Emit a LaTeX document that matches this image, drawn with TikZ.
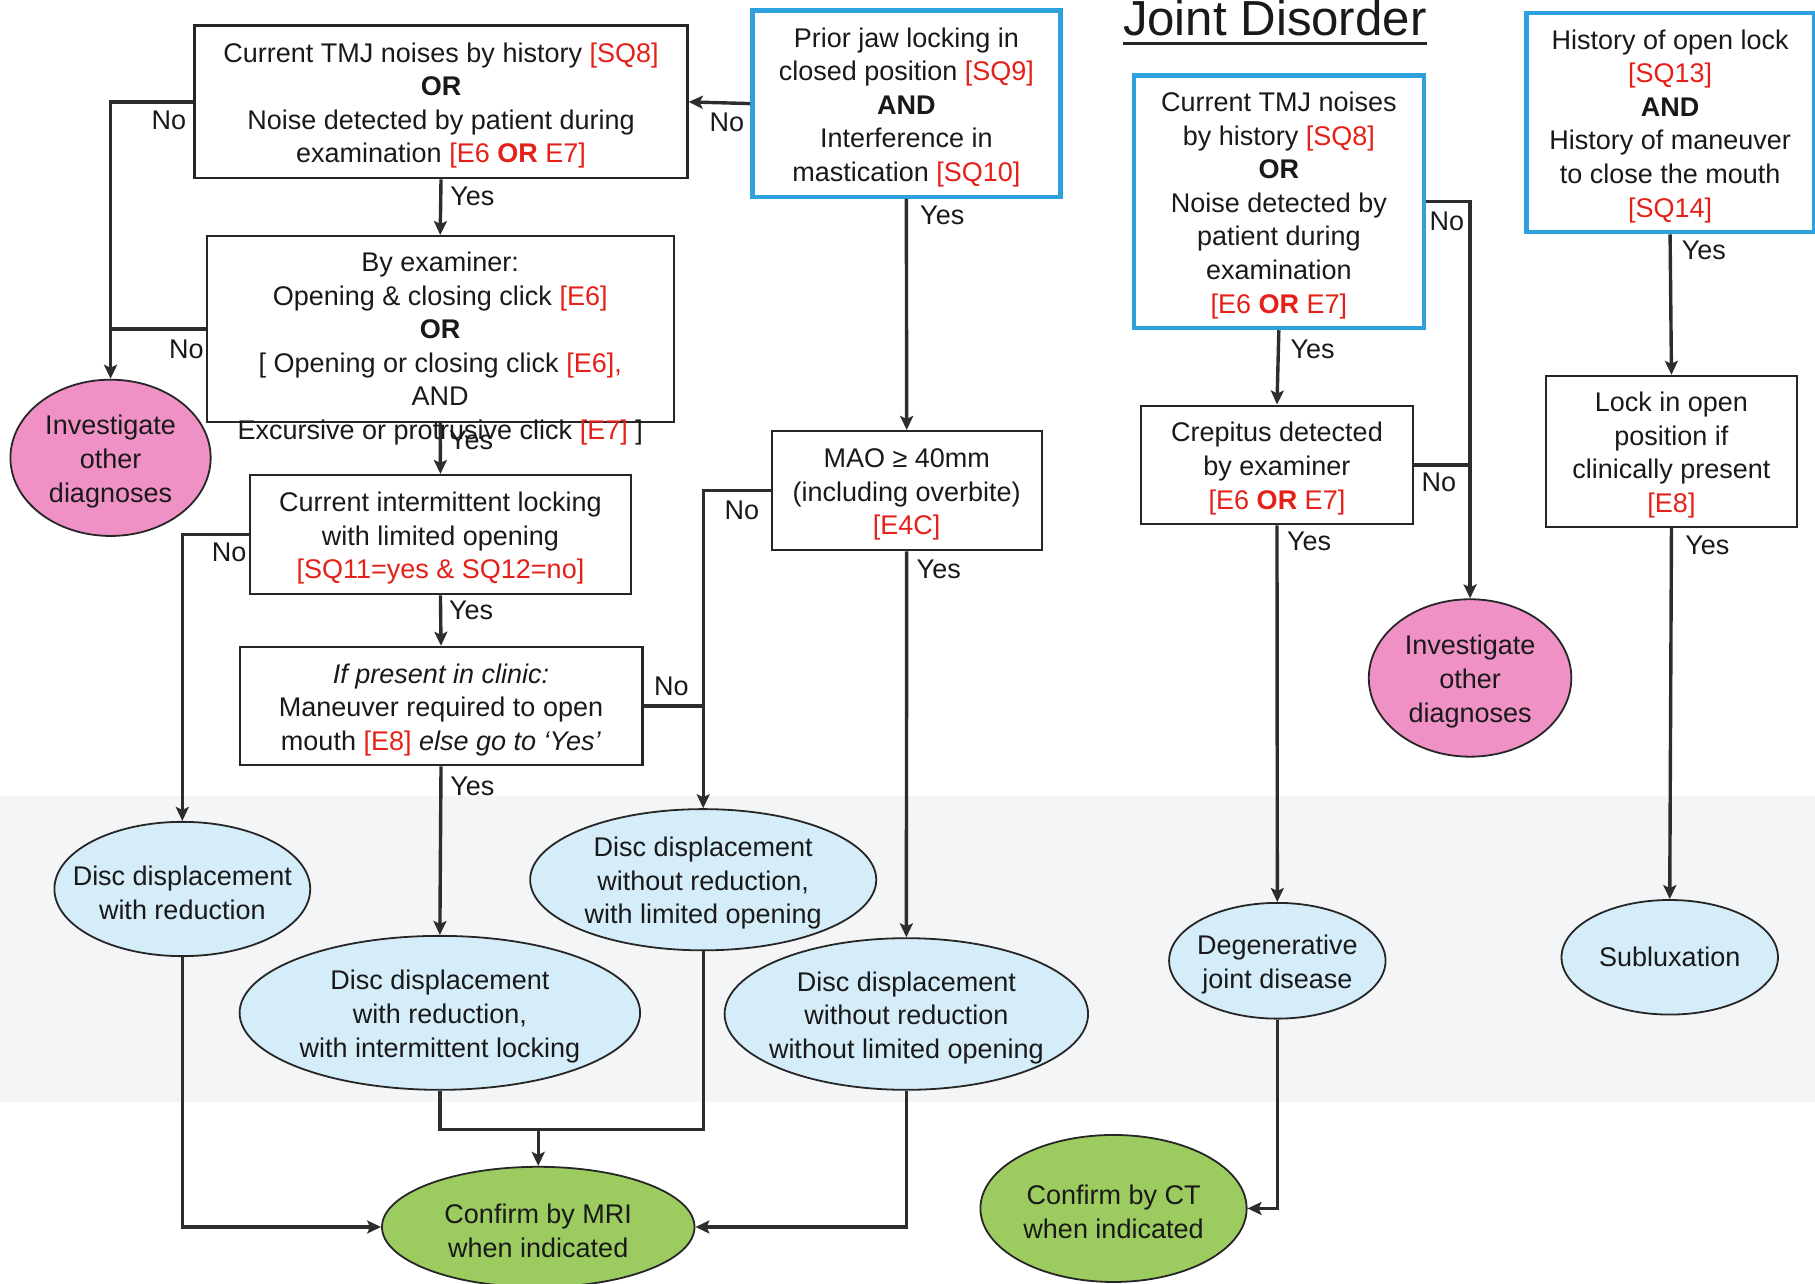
\documentclass[tikz,border=0pt]{standalone}
\usepackage{fontspec}
\setmainfont{Liberation Sans}
\usetikzlibrary{shapes.geometric,arrows.meta}
\definecolor{bblue}{RGB}{45,160,222}
\definecolor{tred}{RGB}{228,32,24}
\definecolor{pinkf}{RGB}{240,145,198}
\definecolor{lblue}{RGB}{213,237,249}
\definecolor{gfill}{RGB}{156,203,96}
\definecolor{linec}{RGB}{45,45,45}
\definecolor{bandc}{RGB}{244,245,246}
\newcommand{\redt}[1]{\textcolor{tred}{#1}}
\newcommand{\fs}{\rule{0pt}{13.4pt}}
\begin{document}
\begin{tikzpicture}[x=0.5787pt,y=-0.5787pt,
  txt/.style={font=\fontsize{13.5}{16.8}\selectfont, align=center, inner sep=0pt, text=black!90},
  sz/.style 2 args={minimum width=#1*0.5787pt, minimum height=#2*0.5787pt},
  box/.style={txt, draw=black!85, line width=1.1pt, rectangle},
  bbox/.style={txt, draw=bblue, line width=2.2pt, rectangle},
  ell/.style={txt, ellipse, draw=black!85, line width=0.9pt, inner sep=-12pt},
  dd/.style={ell, fill=lblue},
  inv/.style={ell, fill=pinkf},
  conf/.style={ell, fill=gfill},
  conn/.style={draw=linec, line width=1.7pt},
  arr/.style={conn, -{Stealth[length=7pt,width=6.5pt,inset=1.5pt]}},
  lab/.style={txt}
]
\useasboundingbox (0,0) rectangle (1568,1109);
\fill[bandc] (0,688) rectangle (1568,952);

% title
\node[txt, font=\fontsize{24.6}{28}\selectfont, anchor=base] (TT) at (1101.3,31) {Joint Disorder};
\draw[line width=1.2pt, black!85] ([yshift=-3.8pt]TT.base west) -- ([yshift=-3.8pt]TT.base east);

% left column boxes
\node[box, sz={426}{132}] (A) at (381,88) {\fs Current TMJ noises by history \redt{[SQ8]}\\ \textbf{OR}\\ Noise detected by patient during\\ examination \redt{[E6 \textbf{OR} E7]}};
\node[bbox, sz={266}{161}] (B) at (783,89.5) {\fs Prior jaw locking in\\ closed position \redt{[SQ9]}\\ \textbf{AND}\\ Interference in\\ mastication \redt{[SQ10]}};
\node[box, sz={403.4}{160.6}] (C) at (380.3,284.3) {};
\node[txt] (Ct) at (380.3,301) {By examiner:\\ Opening \& closing click \redt{[E6]}\\ \textbf{OR}\\ {[} Opening or closing click \redt{[E6],}\\ AND\\ Excursive or protrusive click \redt{[E7]} ]};
\node[box, sz={329}{103}] (D) at (380.5,461.9) {\fs Current intermittent locking\\ with limited opening\\ \redt{[SQ11=yes \& SQ12=no]}};
\node[box, sz={348}{102.3}] (E) at (381,610) {\fs\textit{If present in clinic:}\\ Maneuver required to open\\ mouth \redt{[E8]} \textit{else go to ‘Yes’}};
\node[box, sz={233.3}{103}] (MAO) at (783.3,423.9) {\fs MAO ≥ 40mm\\ (including overbite)\\ \redt{[E4C]}};

% right boxes
\node[bbox, sz={250.3}{218.2}] (F) at (1104.8,174.3) {\fs Current TMJ noises\\ by history \redt{[SQ8]}\\ \textbf{OR}\\ Noise detected by\\ patient during\\ examination\\ \redt{[E6 \textbf{OR} E7]}};
\node[box, sz={235}{102.6}] (G) at (1103.2,401.7) {\fs Crepitus detected\\ by examiner\\ \redt{[E6 \textbf{OR} E7]}};
\node[bbox, sz={248.3}{189.5}] (H) at (1442.8,105.8) {\fs History of open lock\\ \redt{[SQ13]}\\ \textbf{AND}\\ History of maneuver\\ to close the mouth\\ \redt{[SQ14]}};
\node[box, sz={217.5}{130.5}] (I) at (1444,390) {\fs Lock in open\\ position if\\ clinically present\\ \redt{[E8]}};

% ellipses
\node[inv, sz={173}{135}] (inv1) at (95.5,395.5) {\fs Investigate\\ other\\ diagnoses};
\node[dd, sz={221}{116}] (E1) at (157.5,768) {\fs Disc displacement\\ with reduction};
\node[dd, sz={346}{133}] (E2) at (380,875) {\fs Disc displacement\\ with reduction,\\ with intermittent locking};
\node[dd, sz={299}{122}] (E3) at (607.5,760) {\fs Disc displacement\\ without reduction,\\ with limited opening};
\node[dd, sz={314}{131}] (E4) at (783,876) {\fs Disc displacement\\ without reduction\\ without limited opening};
\node[conf, sz={270}{104}] (MRI) at (465,1060) {\fs Confirm by MRI\\ when indicated};
\node[inv, sz={175}{136}] (inv2) at (1270,585.7) {\fs Investigate\\ other\\ diagnoses};
\node[dd, sz={187}{100}] (DJD) at (1103.5,830) {\fs Degenerative\\ joint disease};
\node[conf, sz={230}{127}] (CT) at (962,1044) {\fs Confirm by CT\\ when indicated};
\node[dd, sz={187}{99}] (SUB) at (1442.5,827) {Subluxation};

% connectors left
\draw[arr] (B.west) -- (A.east);
\draw[arr] (A.west) -| (inv1.north);
\draw[conn] (C.west) -- (C.west -| inv1.north);
\draw[arr] (A.south) -- (C.north);
\draw[arr] (C.south) -- (D.north);
\draw[arr] (D.west) -| (E1.north);
\draw[arr] (D.south) -- (E.north);
\draw[arr] (E.south) -- (E2.north);
\draw[conn] (E.east) -- (E.east -| E3.north);
\draw[arr] (MAO.west) -| (E3.north);
\draw[arr] (B.south) -- (MAO.north);
\draw[arr] (MAO.south) -- (E4.north);

% bottom connectors
\coordinate (jn) at (465,975.8);
\draw[conn] (E2.south) |- (E3.south |- jn) -- (E3.south);
\draw[arr] (jn) -- (MRI.north);
\draw[arr] (E1.south) |- (MRI.west);
\draw[arr] (E4.south) |- (MRI.east);

% connectors right
\draw[arr] (F.south) -- (G.north);
\draw[arr] (F.east) -| (inv2.north);
\draw[conn] (G.east) -- (G.east -| inv2.north);
\draw[arr] (G.south) -- (DJD.north);
\draw[arr] (DJD.south) |- (CT.east);
\draw[arr] (H.south) -- (I.north);
\draw[arr] (I.south) -- (SUB.north);

% labels
\node[lab] (l1) at (146,104) {No};
\node[lab] (l2) at (628,106) {No};
\node[lab] (l3) at (408,170) {Yes};
\node[lab] (l4) at (161,302) {No};
\node[lab] (l5) at (407,380) {Yes};
\node[lab] (l6) at (198,477) {No};
\node[lab] (l7) at (407,527) {Yes};
\node[lab] (l8) at (580,593) {No};
\node[lab] (l9) at (408,679) {Yes};
\node[lab] (l10) at (814,186) {Yes};
\node[lab] (l11) at (641,441) {No};
\node[lab] (l12) at (811,492) {Yes};
\node[lab] (l13) at (1250,191) {No};
\node[lab] (l14) at (1134,302) {Yes};
\node[lab] (l15) at (1243,417) {No};
\node[lab] (l16) at (1131,468) {Yes};
\node[lab] (l17) at (1472,216) {Yes};
\node[lab] (l18) at (1475,471) {Yes};
\end{tikzpicture}
\end{document}
